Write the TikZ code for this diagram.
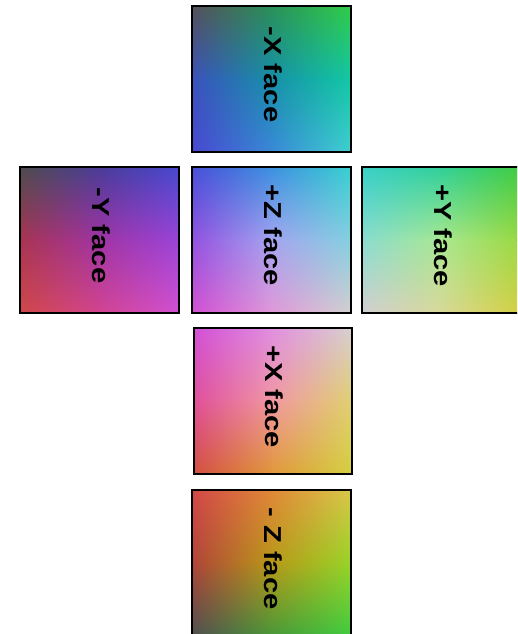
\documentclass[tikz,border=0pt]{standalone}
\usepackage{fontspec}
\setmainfont{Liberation Sans}
\usetikzlibrary{shadings}
\newcommand{\fc}[2]{\definecolor{#1}{HTML}{#2}}
% -X face
\fc{mxa}{55505A}\fc{mxb}{2A9058}\fc{mxc}{30CC48}
\fc{mxd}{3A52BC}\fc{mxe}{1690A8}\fc{mxf}{12C8A4}
\fc{mxg}{4848D0}\fc{mxh}{3A88D8}\fc{mxi}{40D0D0}
% -Y face
\fc{mya}{4E4C4E}\fc{myb}{4A3C98}\fc{myc}{4848D0}
\fc{myd}{A83452}\fc{mye}{A034A4}\fc{myf}{9A44D8}
\fc{myg}{D04848}\fc{myh}{D24490}\fc{myi}{D250D2}
% +Z face
\fc{pza}{4850D8}\fc{pzb}{3C90E0}\fc{pzc}{38D0D0}
\fc{pzd}{9252E0}\fc{pze}{A4A4F0}\fc{pzf}{84D0E0}
\fc{pzg}{D250D2}\fc{pzh}{E098D8}\fc{pzi}{D2D0D0}
% +Y face
\fc{pya}{38D0C8}\fc{pyb}{30D098}\fc{pyc}{40CC40}
\fc{pyd}{8ADCD0}\fc{pye}{A8E890}\fc{pyf}{9AD840}
\fc{pyg}{D2D0D0}\fc{pyh}{D8D898}\fc{pyi}{D4D040}
% +X face
\fc{pxa}{D250D8}\fc{pxb}{E090E0}\fc{pxc}{D8D0D0}
\fc{pxd}{E0509A}\fc{pxe}{F098A2}\fc{pxf}{E0D070}
\fc{pxg}{D25040}\fc{pxh}{E09838}\fc{pxi}{D4D040}
% -Z face
\fc{mza}{D24848}\fc{mzb}{E08838}\fc{mzc}{D8C848}
\fc{mzd}{B04438}\fc{mze}{B89818}\fc{mzf}{98D428}
\fc{mzg}{505050}\fc{mzh}{489838}\fc{mzi}{40CC40}
% #1 prefix, #2 left x, #3 bottom y, #4 right x, #5 top y
\newcommand{\facefill}[5]{%
  \pgfmathsetmacro\xm{(#2+#4)/2}\pgfmathsetmacro\ym{(#3+#5)/2}%
  \shade[upper left=#1a, upper right=#1b, lower left=#1d, lower right=#1e]
    (#2,\ym-0.4) rectangle (\xm+0.4,#5);
  \shade[upper left=#1b, upper right=#1c, lower left=#1e, lower right=#1f]
    (\xm-0.4,\ym-0.4) rectangle (#4,#5);
  \shade[upper left=#1d, upper right=#1e, lower left=#1g, lower right=#1h]
    (#2,#3) rectangle (\xm+0.4,\ym+0.4);
  \shade[upper left=#1e, upper right=#1f, lower left=#1h, lower right=#1i]
    (\xm-0.4,#3) rectangle (#4,\ym+0.4);
}
\tikzset{
  facebox/.style={draw=black, line width=2.2pt, inner sep=0pt,
    minimum width=159pt, minimum height=146pt},
  facelabel/.style={rotate=-90, inner sep=0pt,
    font=\fontsize{24.5}{29}\selectfont\bfseries},
}
\newcommand{\facetext}[1]{\scalebox{1.19}[1]{#1}}
\begin{document}
\begin{tikzpicture}[x=1pt,y=1pt]
\path[fill=white] (0,0) rectangle (517,634);
\useasboundingbox (0,0) rectangle (517,634);
\clip (0,0) rectangle (517,634);
% shaded fills
\facefill{mx}{192}{482}{351}{628}
\facefill{my}{20}{321}{179}{467}
\facefill{pz}{192}{321}{351}{467}
\facefill{py}{362}{321}{521}{467}
\facefill{px}{194}{160}{352}{306}
\facefill{mz}{192}{-2}{351}{144}
% borders
\node[facebox] (mx) at (271.5,555) {};
\node[facebox] (my) at (99.5,394) {};
\node[facebox] (pz) at (271.5,394) {};
\node[facebox] (py) at (441.5,394) {};
\node[facebox, minimum width=158pt] (px) at (273,233) {};
\node[facebox] (mz) at (271.5,71) {};
% labels
\node[facelabel] (mxl) at ([xshift=1.5pt,yshift=4.5pt]mx.center) {\facetext{-X face}};
\node[facelabel] (myl) at ([xshift=1.5pt,yshift=4.5pt]my.center) {\facetext{-Y face}};
\node[facelabel] (pzl) at ([xshift=1.5pt,yshift=4.5pt]pz.center) {\facetext{+Z face}};
\node[facelabel] (pyl) at ([xshift=1.5pt,yshift=4.5pt]py.center) {\facetext{+Y face}};
\node[facelabel] (pxl) at ([xshift=1.5pt,yshift=4.5pt]px.center) {\facetext{+X face}};
\node[facelabel] (mzl) at ([xshift=1.5pt,yshift=4.5pt]mz.center) {\facetext{- Z face}};
\end{tikzpicture}
\end{document}
